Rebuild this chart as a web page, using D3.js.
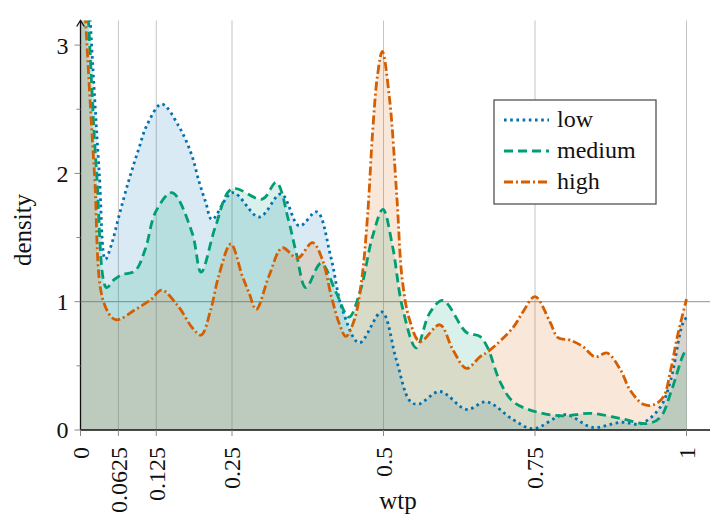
<!DOCTYPE html>
<html>
<head>
<meta charset="utf-8">
<script src="https://cdn.jsdelivr.net/npm/d3@7.9.0/dist/d3.min.js"></script>
<style>
  body { margin: 0; background: #fff; }
  svg text { font-family: 'Liberation Serif', 'DejaVu Serif', serif; fill: #111; }
</style>
</head>
<body>
<svg id="chart" font-family="Liberation Serif, DejaVu Serif, serif"></svg>
<script>
// Density estimates of willingness to pay, one curve per group.
// Each entry is [wtp, density].
const lowPoints = [
  [0, 4.7], [0.016, 3.2], [0.031, 2.0], [0.041, 1.33], [0.052, 1.46],
  [0.063, 1.66], [0.08, 1.95], [0.096, 2.19], [0.11, 2.38], [0.134, 2.54],
  [0.162, 2.37], [0.183, 2.15], [0.196, 1.93], [0.207, 1.77], [0.217, 1.64],
  [0.251, 1.85], [0.295, 1.66], [0.331, 1.84], [0.361, 1.59], [0.39, 1.7],
  [0.413, 1.35], [0.432, 0.94], [0.46, 0.68], [0.497, 0.92], [0.521, 0.55],
  [0.543, 0.23], [0.557, 0.2], [0.593, 0.3], [0.637, 0.16], [0.67, 0.22],
  [0.714, 0.08], [0.747, 0.01], [0.8, 0.12], [0.845, 0.02], [0.891, 0.06],
  [0.925, 0.05], [0.957, 0.18], [0.974, 0.39], [0.993, 0.82], [1, 0.88],
];

const mediumPoints = [
  [0, 4.3], [0.013, 3.2], [0.0265, 2.0], [0.043, 1.11], [0.055, 1.17],
  [0.068, 1.21], [0.09, 1.24], [0.107, 1.41], [0.124, 1.7], [0.151, 1.85],
  [0.184, 1.54], [0.199, 1.23], [0.223, 1.59], [0.25, 1.88], [0.3, 1.8],
  [0.323, 1.93], [0.343, 1.64], [0.356, 1.38], [0.372, 1.11], [0.397, 1.3],
  [0.422, 1.07], [0.443, 0.88], [0.462, 1.09], [0.482, 1.51], [0.499, 1.72],
  [0.515, 1.43], [0.531, 0.96], [0.554, 0.64], [0.576, 0.91], [0.598, 1.01],
  [0.637, 0.76], [0.659, 0.73], [0.672, 0.64], [0.692, 0.38], [0.714, 0.22],
  [0.753, 0.14], [0.796, 0.11], [0.841, 0.13], [0.891, 0.09], [0.935, 0.05],
  [0.957, 0.1], [0.974, 0.29], [0.995, 0.59], [1, 0.62],
];

const highPoints = [
  [0, 3.9], [0.0083, 3.2], [0.023, 2.0], [0.038, 1.0], [0.058, 0.86],
  [0.091, 0.94], [0.117, 1.02], [0.134, 1.09], [0.162, 0.96], [0.184, 0.8],
  [0.199, 0.74], [0.215, 0.94], [0.228, 1.2], [0.248, 1.45], [0.267, 1.2],
  [0.278, 1.07], [0.29, 0.94], [0.311, 1.2], [0.333, 1.42], [0.358, 1.34],
  [0.383, 1.46], [0.399, 1.33], [0.414, 1.04], [0.427, 0.83], [0.438, 0.73],
  [0.452, 0.86], [0.464, 1.17], [0.474, 1.69], [0.482, 2.32], [0.49, 2.76],
  [0.498, 2.95], [0.51, 2.58], [0.522, 1.82], [0.531, 1.17], [0.543, 0.86],
  [0.56, 0.69], [0.593, 0.82], [0.614, 0.63], [0.637, 0.48], [0.659, 0.57],
  [0.675, 0.62], [0.714, 0.8], [0.73, 0.92], [0.75, 1.04], [0.775, 0.84],
  [0.788, 0.72], [0.808, 0.7], [0.829, 0.65], [0.849, 0.57], [0.869, 0.6],
  [0.891, 0.47], [0.907, 0.31], [0.929, 0.2], [0.945, 0.195], [0.962, 0.26],
  [0.974, 0.47], [0.985, 0.73], [1, 1.02],
];

const seriesNames = ['low', 'medium', 'high'];
const xTickValues = [0, 0.0625, 0.125, 0.25, 0.5, 0.75, 1];
const xTickLabels = ['0', '0.0625', '0.125', '0.25', '0.5', '0.75', '1'];
const yTickValues = [0, 1, 2, 3];
const yMinorTicks = [0.5, 1.5, 2.5];

const width = 710;
const height = 516;
const margin = { top: 20.5, right: 0, bottom: 86, left: 80.5 };

const colors = { low: '#0072B2', medium: '#009E73', high: '#D55E00' };
const dashes = { low: '2.6 3.6', medium: '9 5', high: '9 3 2 3' };

const series = [
  { name: 'low', points: lowPoints },
  { name: 'medium', points: mediumPoints },
  { name: 'high', points: highPoints },
];

const svg = d3.select('#chart').attr('width', width).attr('height', height);

const xScale = d3
  .scaleLinear()
  .domain([0, (width - margin.left) / 606])
  .range([margin.left, width - margin.right]);

const yScale = d3
  .scaleLinear()
  .domain([0, (height - margin.bottom - margin.top) / 128.3])
  .range([height - margin.bottom, margin.top]);

const plotBottom = height - margin.bottom;

// clip so the tall spike near zero is cut at the top of the plot
svg
  .append('clipPath')
  .attr('id', 'plot-clip')
  .append('rect')
  .attr('x', margin.left)
  .attr('y', margin.top)
  .attr('width', width - margin.left - margin.right)
  .attr('height', plotBottom - margin.top);

// vertical grid lines at the x ticks
svg
  .append('g')
  .selectAll('line')
  .data(xTickValues.slice(1))
  .join('line')
  .attr('x1', (d) => xScale(d))
  .attr('x2', (d) => xScale(d))
  .attr('y1', margin.top)
  .attr('y2', plotBottom)
  .style('stroke', '#c4c4c4')
  .style('stroke-width', 1);

// horizontal line at density 1
svg
  .append('line')
  .attr('x1', margin.left)
  .attr('x2', width)
  .attr('y1', yScale(1))
  .attr('y2', yScale(1))
  .style('stroke', '#a8a8a8')
  .style('stroke-width', 1.2);

const curve = d3.curveCatmullRom.alpha(0.5);

const area = d3
  .area()
  .x((d) => xScale(d[0]))
  .y0(yScale(0))
  .y1((d) => yScale(d[1]))
  .curve(curve);

const line = d3
  .line()
  .x((d) => xScale(d[0]))
  .y((d) => yScale(d[1]))
  .curve(curve);

const plot = svg.append('g').attr('clip-path', 'url(#plot-clip)');

plot
  .selectAll('path.fill')
  .data(series)
  .join('path')
  .attr('class', 'fill')
  .attr('d', (d) => area(d.points))
  .style('fill', (d) => colors[d.name])
  .style('fill-opacity', 0.15);

plot
  .selectAll('path.curve')
  .data(series)
  .join('path')
  .attr('class', 'curve')
  .attr('d', (d) => line(d.points))
  .style('fill', 'none')
  .style('stroke', (d) => colors[d.name])
  .style('stroke-width', 2.8)
  .style('stroke-dasharray', (d) => dashes[d.name]);

// axes, drawn by hand to get the pgfplots look
const xAxis = svg.append('g');
xAxis
  .append('line')
  .attr('x1', margin.left)
  .attr('x2', width)
  .attr('y1', plotBottom)
  .attr('y2', plotBottom)
  .style('stroke', '#111')
  .style('stroke-width', 1.3);

xAxis
  .selectAll('line.tick')
  .data(xTickValues)
  .join('line')
  .attr('class', 'tick')
  .attr('x1', (d) => xScale(d))
  .attr('x2', (d) => xScale(d))
  .attr('y1', plotBottom)
  .attr('y2', plotBottom + 6)
  .style('stroke', '#888')
  .style('stroke-width', 1);

xAxis
  .selectAll('text')
  .data(xTickValues)
  .join('text')
  .attr('transform', (d) => `translate(${xScale(d)}, ${plotBottom + 17}) rotate(-90)`)
  .attr('text-anchor', 'end')
  .attr('dy', '0.35em')
  .style('font-size', '24px')
  .text((d, i) => xTickLabels[i]);

const yAxis = svg.append('g');
yAxis
  .append('line')
  .attr('x1', margin.left)
  .attr('x2', margin.left)
  .attr('y1', plotBottom)
  .attr('y2', margin.top)
  .style('stroke', '#111')
  .style('stroke-width', 1.3);

// arrow head at the top of the y axis
yAxis
  .append('path')
  .attr('d', `M${margin.left - 3.8},${margin.top + 6} L${margin.left},${margin.top} L${margin.left + 3.8},${margin.top + 6}`)
  .style('fill', 'none')
  .style('stroke', '#111')
  .style('stroke-width', 1.3);

yAxis
  .selectAll('line.major')
  .data(yTickValues)
  .join('line')
  .attr('class', 'major')
  .attr('x1', margin.left - 6)
  .attr('x2', margin.left)
  .attr('y1', (d) => yScale(d))
  .attr('y2', (d) => yScale(d))
  .style('stroke', '#888')
  .style('stroke-width', 1);

yAxis
  .selectAll('line.minor')
  .data(yMinorTicks)
  .join('line')
  .attr('class', 'minor')
  .attr('x1', margin.left - 4)
  .attr('x2', margin.left)
  .attr('y1', (d) => yScale(d))
  .attr('y2', (d) => yScale(d))
  .style('stroke', '#888')
  .style('stroke-width', 1);

yAxis
  .selectAll('text')
  .data(yTickValues)
  .join('text')
  .attr('x', margin.left - 12)
  .attr('y', (d) => yScale(d))
  .attr('dy', '0.35em')
  .attr('text-anchor', 'end')
  .style('font-size', '24px')
  .text((d) => d);

// axis titles
svg
  .append('text')
  .attr('transform', `translate(31, 230) rotate(-90)`)
  .attr('text-anchor', 'middle')
  .style('font-size', '25px')
  .text('density');

svg
  .append('text')
  .attr('x', 398)
  .attr('y', 509)
  .attr('text-anchor', 'middle')
  .style('font-size', '25px')
  .text('wtp');

// legend
const legend = svg.append('g').attr('transform', 'translate(494, 100)');
legend
  .append('rect')
  .attr('width', 162)
  .attr('height', 104)
  .style('fill', '#fff')
  .style('stroke', '#444')
  .style('stroke-width', 1.2);

const rows = legend
  .selectAll('g')
  .data(seriesNames)
  .join('g')
  .attr('transform', (d, i) => `translate(0, ${20 + i * 31})`);

rows
  .append('line')
  .attr('x1', 10)
  .attr('x2', 55)
  .style('stroke', (d) => colors[d])
  .style('stroke-width', 2.8)
  .style('stroke-dasharray', (d) => dashes[d]);

rows
  .append('text')
  .attr('x', 63)
  .attr('dy', '0.3em')
  .style('font-size', '24px')
  .text((d) => d);
</script>
</body>
</html>
